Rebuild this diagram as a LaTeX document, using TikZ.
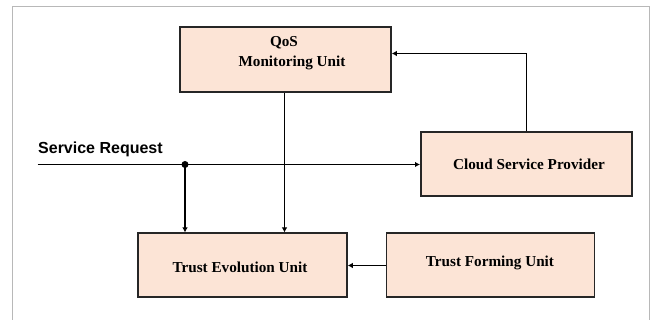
\documentclass[tikz,border=0pt]{standalone}
\usepackage{fontspec}
\setmainfont{Liberation Serif}
\newfontfamily\labelfont{Liberation Sans}
\usetikzlibrary{arrows.meta}
\definecolor{boxfill}{HTML}{FCE4D6}
\definecolor{framegray}{HTML}{B8B8B8}
\tikzset{
  unitbox/.style={draw=black!85, line width=1.8pt, fill=boxfill, inner sep=0pt},
  unittext/.style={font=\bfseries\fontsize{15.2}{17}\selectfont, align=center, inner sep=0pt},
  flow/.style={draw=black, line width=1.6pt, -{Latex[length=5pt,width=5.5pt]}},
}
\begin{document}
\begin{tikzpicture}[x=1pt,y=-1pt]
  % canvas
  \useasboundingbox (0,0) rectangle (654,320);
  \fill[white] (0,0) rectangle (654,320);
  \draw[framegray, line width=0.8pt] (12.5,320) -- (12.5,6.5) -- (649,6.5) -- (649,320);

  % boxes
  \node[unitbox, minimum width=211pt, minimum height=65pt, anchor=north west] (qos) at (179,26) {};
  \node[unitbox, minimum width=211pt, minimum height=64pt, anchor=north west] (csp) at (420,131.5) {};
  \node[unitbox, minimum width=209pt, minimum height=64pt, anchor=north west] (teu) at (137,232.5) {};
  \node[unitbox, minimum width=208pt, minimum height=64pt, anchor=north west] (tfu) at (385.5,232) {};

  % box texts
  \node[unittext] (qost1) at (284,43) {QoS};
  \node[unittext] (qost2) at (292,63) {Monitoring Unit};
  \node[unittext] (cspt) at (529,164.5) {Cloud Service Provider};
  \node[unittext] (teut) at (240,267.5) {Trust Evolution Unit};
  \node[unittext] (tfut) at (490,263) {Trust Forming Unit};

  % incoming request
  \coordinate (start) at (37.5,164.5);
  \coordinate (split) at (185,164.5);
  \node[font=\labelfont\bfseries\fontsize{16}{18}\selectfont, anchor=base west, inner sep=0pt] (req) at (38,154) {Service Request};
  \draw[flow] (start) -- (csp.west |- start);
  \fill (split) circle (3.5pt);
  \draw[flow] (split) -- (split |- teu.north);

  % QoS monitoring feeds trust evolution
  \draw[flow] (qos.south -| 284.5,0) -- (teu.north -| 284.5,0);

  % provider reports back to QoS monitoring
  \coordinate (fb) at (526.5,53.5);
  \draw[flow] (csp.north -| fb) -- (fb) -- (qos.east |- fb);

  % trust forming feeds trust evolution
  \draw[flow] (tfu.west |- 0,265.5) -- (teu.east |- 0,265.5);
\end{tikzpicture}
\end{document}
